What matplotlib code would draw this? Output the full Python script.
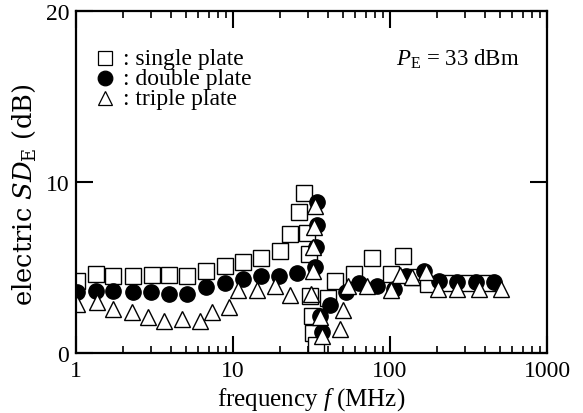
import matplotlib
matplotlib.use("Agg")
import matplotlib.pyplot as plt
from matplotlib.ticker import FixedLocator, LogLocator, NullFormatter

plt.rcParams["font.family"] = ["Liberation Serif", "DejaVu Serif"]
plt.rcParams["mathtext.fontset"] = "custom"
plt.rcParams["mathtext.rm"] = "Liberation Serif"
plt.rcParams["mathtext.it"] = "Liberation Serif:italic"

# single plate (squares)
single_f = [1.02, 1.34, 1.73, 2.30, 3.04, 3.94, 5.13, 6.75, 8.85, 11.5, 15.1, 19.9,
            23.0, 26.5, 28.2, 29.5, 30.3, 30.9, 31.7, 32.5, 33.8, 40.0, 44.4,
            58.7, 77.0, 101, 121, 142, 174, 233, 312, 416]
single_sd = [4.19, 4.62, 4.52, 4.52, 4.56, 4.55, 4.49, 4.81, 5.11, 5.30, 5.56, 5.94,
             6.96, 8.25, 9.35, 7.0, 5.8, 3.35, 2.18, 1.15, 0.45, 3.2, 4.23,
             4.6, 5.56, 4.62, 5.69, 4.45, 4.04, 4.09, 4.09, 4.09]

# double plate (filled circles)
double_f = [1.02, 1.34, 1.73, 2.30, 3.0, 3.94, 5.13, 6.75, 8.85, 11.5, 15.0, 19.7,
            25.5, 34.5, 34.3, 34.0, 33.5, 35.7, 36.9, 41.7, 52.2, 63.3, 83.0,
            106, 127, 164, 204, 268, 352, 462]
double_sd = [3.55, 3.65, 3.65, 3.59, 3.59, 3.45, 3.45, 3.84, 4.09, 4.33, 4.52, 4.52,
             4.7, 8.81, 7.49, 6.22, 5.01, 2.18, 1.21, 2.8, 3.55, 4.1, 3.94,
             3.74, 4.52, 4.81, 4.23, 4.13, 4.13, 4.13]

# triple plate (open triangles)
triple_f = [1.01, 1.36, 1.73, 2.27, 2.89, 3.61, 4.72, 6.13, 7.34, 9.38, 10.8, 14.2,
            18.6, 23.0, 33.5, 32.7, 32.4, 32.2, 31.4, 36.0, 36.9, 48.3, 50.0,
            53.9, 71.8, 101, 116, 139, 169, 201, 269, 367, 508]
triple_sd = [2.85, 2.96, 2.55, 2.40, 2.13, 1.89, 1.97, 1.90, 2.42, 2.67, 3.69, 3.67,
             3.90, 3.39, 8.6, 7.35, 6.18, 4.81, 3.45, 2.09, 1.01, 1.40, 2.5,
             3.92, 3.90, 3.70, 4.55, 4.43, 4.75, 3.74, 3.74, 3.74, 3.74]

x_ticks = [1, 10, 100, 1000]
x_labels = ["1", "10", "100", "1000"]
y_ticks = [0, 10, 20]

fig = plt.figure(figsize=(5.83, 4.14), dpi=100)
ax = fig.add_axes([76 / 583, 60 / 414, (547 - 76) / 583, (354 - 12) / 414])

ms = 11
ax.plot(single_f, single_sd, ls="none", marker="s", ms=ms, mfc="white", mec="black", mew=1.0)
ax.plot(double_f, double_sd, ls="none", marker="o", ms=ms, mfc="black", mec="black", mew=1.0)
ax.plot(triple_f, triple_sd, ls="none", marker="^", ms=ms, mfc="white", mec="black", mew=1.0)

ax.set_xscale("log")
ax.set_xlim(1, 1000)
ax.set_ylim(0, 20)
ax.xaxis.set_major_locator(FixedLocator(x_ticks))
ax.xaxis.set_minor_locator(LogLocator(base=10, subs=range(2, 10)))
ax.xaxis.set_minor_formatter(NullFormatter())
ax.set_xticklabels(x_labels)
ax.yaxis.set_major_locator(FixedLocator(y_ticks))

for s in ax.spines.values():
    s.set_linewidth(1.6)
ax.tick_params(which="both", direction="in", top=True, right=True, labelsize=17)
ax.tick_params(which="major", length=12, width=1.5, pad=5)
ax.tick_params(which="minor", length=5, width=1.2)

ax.set_xlabel(r"frequency $f$ (MHz)", fontsize=18, labelpad=3)
ax.set_ylabel(r"electric $SD_{\mathrm{E}}$ (dB)", fontsize=18.5,
              fontfamily="DejaVu Serif", math_fontfamily="dejavuserif")
ax.yaxis.set_label_coords(-0.08, 0.465)

# legend drawn as text with markers
for y, mk, fc, txt in [(17.25, "s", "white", ": single plate"),
                       (16.08, "o", "black", ": double plate"),
                       (14.91, "^", "white", ": triple plate")]:
    ax.plot([1.53], [y], ls="none", marker=mk, ms=10.5, mfc=fc, mec="black", mew=0.9)
    ax.text(1.98, y, txt, fontsize=17, va="center", ha="left")

ax.text(110, 17.25, r"$P_{\mathrm{E}}$ = 33 dBm", fontsize=16.5, va="center", ha="left")

fig.savefig("out.png", dpi=100)
